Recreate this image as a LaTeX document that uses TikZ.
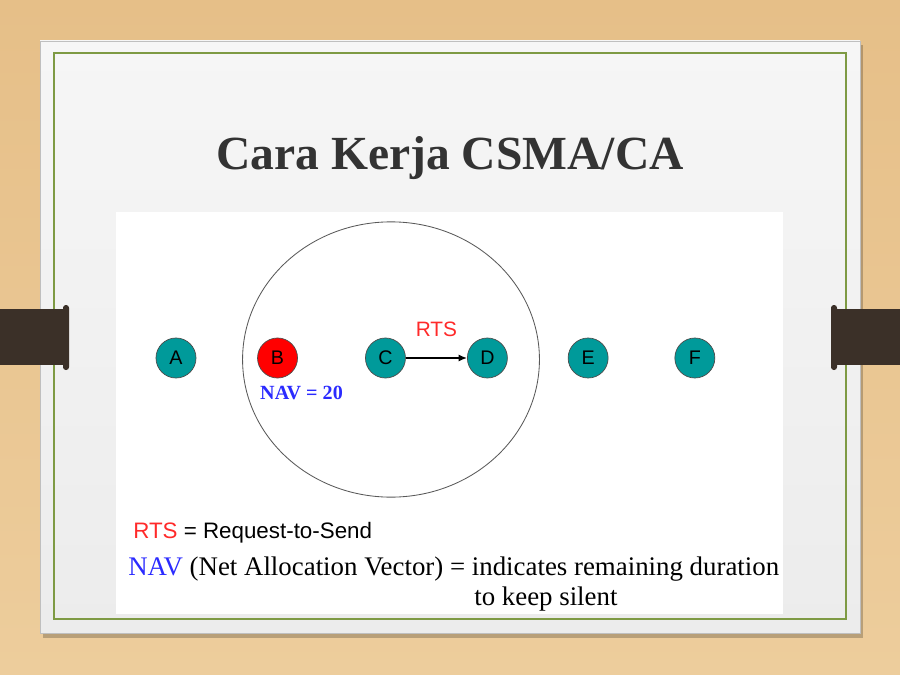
\documentclass[tikz,border=0pt]{standalone}
\usepackage{fontspec}
\setmainfont{Liberation Serif}
\setsansfont{Liberation Sans}
\usetikzlibrary{arrows.meta, positioning}
\definecolor{woodbg}{HTML}{E6BF88}
\definecolor{woodlight}{HTML}{EDCD9C}
\definecolor{slidetop}{HTML}{F6F6F6}
\definecolor{slidebottom}{HTML}{ECECEC}
\definecolor{slidegreen}{HTML}{7E9A44}
\definecolor{tabbrown}{HTML}{3B3028}
\definecolor{stateteal}{HTML}{009A9A}
\definecolor{navblue}{HTML}{2B2BFF}
\definecolor{rtsred}{HTML}{FF2A2A}
\definecolor{titlegray}{HTML}{333333}

\begin{document}
\begin{tikzpicture}[x=0.025cm, y=-0.025cm,
      station/.style={circle, draw=black!70, line width=0.5pt, fill=stateteal,
                      minimum size=1cm, inner sep=0pt,
                      font=\sffamily\fontsize{14}{15}\selectfont},
      arr/.style={-{Latex[length=6pt, width=5pt]}, line width=1pt, color=black},
      rangeline/.style={draw=black!65, line width=0.6pt},
      legend/.style={anchor=base west, inner sep=0pt},
      tab/.style={fill=tabbrown},
    ]
      % background, slide and picture area
      \shade[top color=woodbg, bottom color=woodlight] (0,0) rectangle (900,675);
      \fill[black, opacity=0.22] (43,45) rectangle (863,638);
      \shade[top color=slidetop, bottom color=slidebottom, draw=black!25]
            (40,41) rectangle (860,633);
      \draw[slidegreen, line width=1.2pt] (54,53) rectangle (846,619);
      \fill[white] (116,212) rectangle (783,614);

      % tabs
      \fill[tab] (0,309) rectangle (68,365);
      \fill[tab, rounded corners=2pt] (63,305) rectangle (69,370);
      \fill[tab] (832,309) rectangle (900,365);
      \fill[tab, rounded corners=2pt] (831,305) rectangle (837,370);

      \node[anchor=base, text=titlegray, font=\bfseries\fontsize{33.8}{38}\selectfont]
            (title) at (450,170) {Cara Kerja CSMA/CA};

      % stations
      \coordinate (range) at (391,359.5);
      \draw[rangeline] (range) ellipse [x radius=3.71cm, y radius=3.44cm];

      \node[station] (A) at (176,358) {A};
      \node[station, fill=red, right=1.52cm of A] (B) {B};
      \node[station, right=1.68cm of B] (C) {C};
      \node[station, right=1.53cm of C] (D) {D};
      \node[station, right=1.5cm of D] (E) {E};
      \node[station, right=1.65cm of E] (F) {F};

      \draw[arr] (C) -- (D) node[midway, above=11pt, text=rtsred,
                 font=\sffamily\fontsize{14.8}{16}\selectfont] (rts) {RTS};
      \node[below=0.07cm of B, xshift=0.6cm, text=navblue,
            font=\bfseries\fontsize{14.3}{16}\selectfont] (nav) {NAV = 20};

      % legend
      \node[legend, font=\sffamily\fontsize{15.9}{18}\selectfont] (leg1) at (133,538)
            {\textcolor{rtsred}{RTS} = Request-to-Send};
      \node[legend, font=\fontsize{19.1}{22}\selectfont] (leg2) at (128,575)
            {\textcolor{navblue}{NAV} (Net Allocation Vector) = indicates remaining duration};
      \node[legend, font=\fontsize{19.1}{22}\selectfont] (leg3) at (474,605)
            {to keep silent};
    \end{tikzpicture}
\end{document}
